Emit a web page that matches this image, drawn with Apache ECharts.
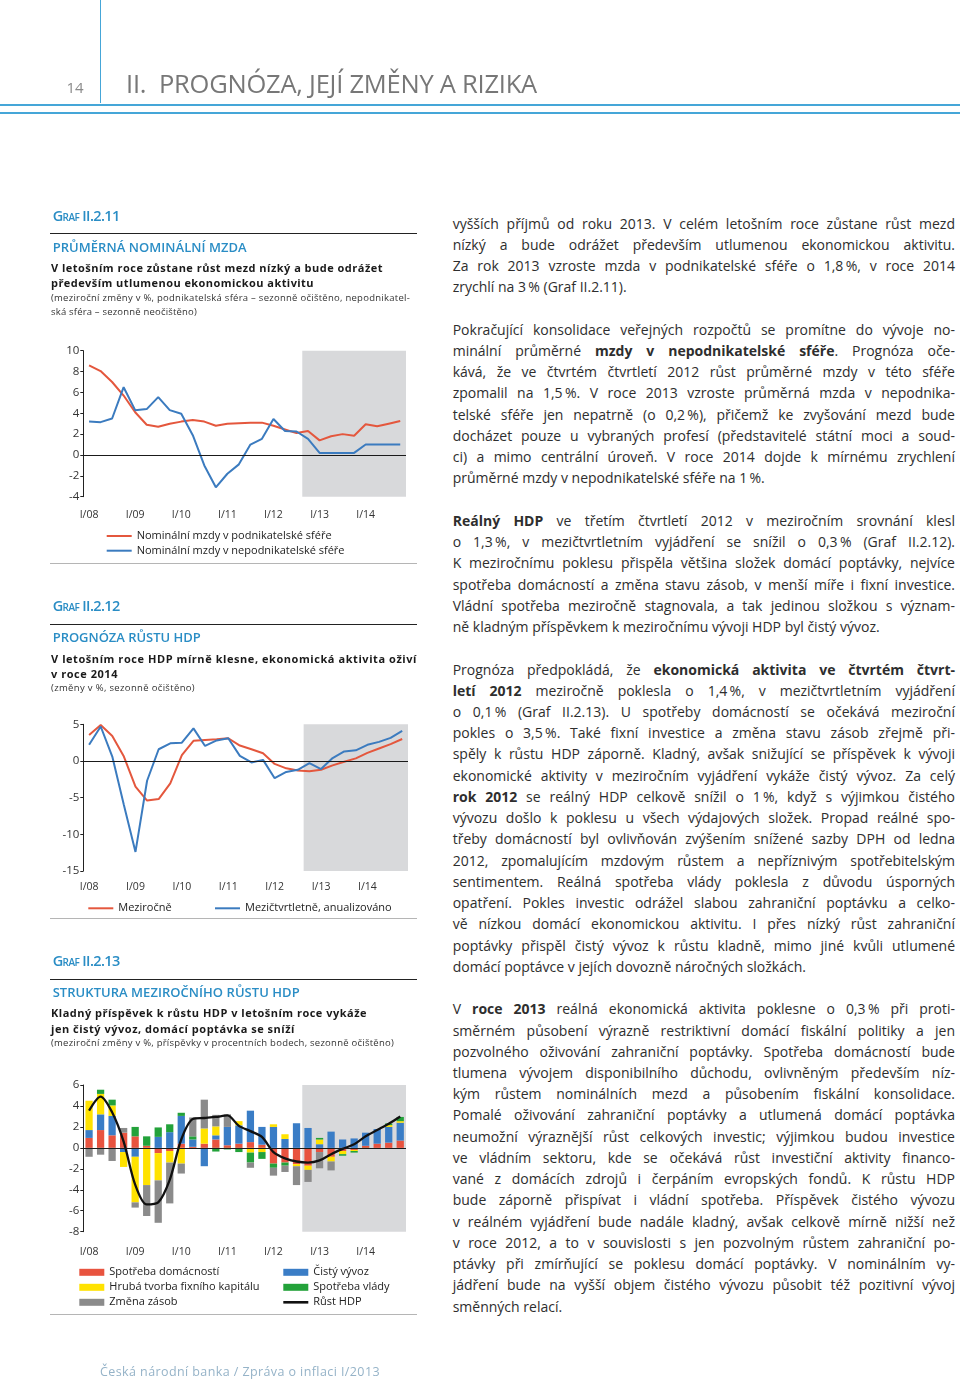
<!DOCTYPE html>
<html><head><meta charset="utf-8">
<script src="https://cdn.jsdelivr.net/npm/echarts@6/dist/echarts.min.js"></script>
<style>
html,body{margin:0;padding:0;background:#fff}
body{width:960px;height:1382px;position:relative;overflow:hidden;font-family:'Open Sans','Noto Sans',sans-serif}
.t{position:absolute;white-space:nowrap}
.ln{position:absolute}
.sc{font-variant:small-caps}
</style></head><body>
<div id="c" style="position:absolute;left:0;top:0;width:440px;height:1382px"></div>
<script>
// ---------- DATA ----------
const quarters = ['I/08','II/08','III/08','IV/08','I/09','II/09','III/09','IV/09','I/10','II/10','III/10','IV/10','I/11','II/11','III/11','IV/11','I/12','II/12','III/12','IV/12','I/13','II/13','III/13','IV/13','I/14','II/14','III/14','IV/14'];
const forecastStart = 'IV/12';

// Graf II.2.11
const wageBusiness = [8.6, 8.05, 7.0, 5.7, 4.1, 2.9, 2.7, 3.0, 3.2, 3.35, 3.2, 2.8, 3.0, 3.05, 3.1, 3.1, 2.8, 2.45, 2.1, 2.3, 1.4, 1.8, 2.0, 1.85, 2.95, 2.75, 3.0, 3.25];
const wagePublic   = [3.2, 3.15, 3.5, 6.5, 4.3, 4.4, 5.55, 4.3, 3.95, 1.9, -1.0, -3.1, -1.8, -0.9, 1.0, 1.55, 3.45, 2.3, 2.25, 1.55, 0.2, 0.2, 0.2, 0.2, 1.0, 1.0, 1.0, 1.0];

// Graf II.2.12
const gdpYoY = [3.55, 4.9, 3.4, 0.6, -3.5, -5.4, -5.2, -3.05, 0.8, 2.75, 2.85, 2.95, 3.1, 2.1, 1.6, 1.05, -0.4, -1.0, -1.3, -1.4, -1.2, -0.6, -0.1, 0.35, 1.1, 1.7, 2.3, 3.0];
const gdpQoQ = [2.2, 4.7, 0.6, -6.0, -12.4, -2.7, 1.6, 2.4, 2.5, 4.45, 2.05, 2.8, 3.1, 0.7, -0.2, 0.15, -2.35, -1.5, -1.2, -0.3, -1.1, 0.4, 1.3, 1.45, 2.2, 2.6, 3.15, 4.1];

// Graf II.2.13 (contributions, p.p.)
const cHouseholds = [0.95, 1.7, 1.2, 1.45, 1.1, 0.2, -0.5, -0.3, 0.4, 0.1, 0.4, 0.8, 0.25, 0.4, 0.55, 0.3, -1.5, -1.4, -1.55, -1.7, -0.4, -0.85, -0.3, -0.2, 0.2, 0.4, 0.5, 0.7];
const cNetExports = [0.75, 1.5, 1.85, -0.4, -0.85, 0, 1.05, 1.5, 2.65, 0.7, -1.75, 0.4, 1.75, 1.75, 3.0, 1.7, 2.0, 0.85, 2.35, 1.9, 0.35, 1.55, 0.8, 0.9, 1.25, 1.4, 1.5, 1.7];
const cInvestment = [2.8, 1.95, 1.0, -1.42, -4.35, -3.55, -2.6, -1.1, -1.5, 0, 1.45, 0.85, 0, 0.4, -0.45, -0.4, 0.25, 0.45, -0.2, -0.4, 0.45, -0.45, -0.3, -0.1, 0, 0, 0.17, 0.15];
const cGovernment = [0, 0.4, 0.55, 0, 0.9, 0.9, 0.9, 0.75, 0.3, 0.3, 0, -0.35, -0.15, -0.4, -0.95, -0.65, -0.4, -0.3, 0, 0, 0.15, 0, -0.15, -0.15, -0.1, 0, 0.16, 0.4];
const cInventories = [-0.85, -0.65, -1.25, 0.45, -0.5, -2.95, -4.05, -3.9, -0.95, 1.8, 2.75, 1.1, 1.2, 0, -0.5, 0, -0.75, -0.6, -1.8, -1.15, -1.55, -0.85, 0, 0, 0, 0, 0, 0];
const gdpGrowth = gdpYoY;

// tick settings
const ticks1 = {min: -4, max: 10, step: 2};
const ticks2 = {min: -15, max: 5, step: 5};
const ticks3 = {min: -8, max: 6, step: 2};

// ---------- STYLE ----------
const RED = '#e4573d', BLUE = '#3b7bbf';
const BAR_RED = '#e8533f', BAR_YEL = '#ffe200', BAR_GRAY = '#8b8b8b', BAR_BLUE = '#3a7dc6', BAR_GREEN = '#23a23a';
const SHADE = '#d8d9db';
const FONT = "'Open Sans','Noto Sans',sans-serif";
const LINE_ICON = 'path://M0,0L25,0L25,2L0,2Z';
const LINE_ICON_THICK = 'path://M0,0L25,0L25,2.6L0,2.6Z';

// ---------- PAGE TEXT ----------
function fit(d, W, justify, expand) {
  const txt = d.textContent;
  let w = d.getBoundingClientRect().width;
  if (w > W || expand) {
    let ls = (W - w) / txt.length;
    if (w <= W) ls = Math.min(ls, 0.8);
    d.style.letterSpacing = ls + 'px';
    w = d.getBoundingClientRect().width;
  }
  if (justify && w < W) {
    const n = (txt.match(/ /g) || []).length;
    if (n) d.style.wordSpacing = ((W - w) / n) + 'px';
  }
}
function put(html, x, cy, size, o) {
  o = o || {};
  const d = document.createElement('div');
  d.className = 't' + (o.cls ? ' ' + o.cls : '');
  d.innerHTML = html;
  const lh = Math.round(size * 1.4);
  const dy = (o.dy == null ? 0.1 : o.dy);
  d.style.left = x + 'px';
  d.style.top = (cy - lh / 2 - size * dy) + 'px';
  d.style.fontSize = size + 'px';
  d.style.lineHeight = lh + 'px';
  d.style.fontWeight = o.w || 400;
  d.style.color = o.c || '#2e2e2e';
  document.body.appendChild(d);
  if (o.W) fit(d, o.W, o.justify, o.expand);
  return d;
}
function rule(x, y, w, h, color) {
  const d = document.createElement('div');
  d.className = 'ln';
  d.style.cssText = `left:${x}px;top:${y}px;width:${w}px;height:${h}px;background:${color}`;
  document.body.appendChild(d);
}

// header
rule(99.5, 0, 1.4, 103, '#45a6d8');
rule(0, 104.3, 960, 1.5, '#45a6d8');
rule(0, 112.3, 960, 1.5, '#45a6d8');
put('14', 66.5, 87.5, 15, {c: '#8a8a8a', dy: 0.03});
put('II.&nbsp; PROGNÓZA, JEJÍ ZMĚNY A RIZIKA', 126, 84, 25.5, {c: '#777', dy: 0.03, W: 411, expand: true});

// left column chart headings
const blocks = [
  {L: 216, graf: 'Graf II.2.11', title: 'PRŮMĚRNÁ NOMINÁLNÍ MZDA', titleW: 194,
   sub: ['V letošním roce zůstane růst mezd nízký a bude odrážet', 'především utlumenou ekonomickou aktivitu'], subW: [332, 263],
   note: ['(meziroční změny v %, podnikatelská sféra – sezonně očištěno, nepodnikatel-', 'ská sféra – sezonně neočištěno)'], noteW: [359, 146], sep: 563},
  {L: 606.7, graf: 'Graf II.2.12', title: 'PROGNÓZA RŮSTU HDP', titleW: 148,
   sub: ['V letošním roce HDP mírně klesne, ekonomická aktivita oživí', 'v roce 2014'], subW: [366, 67],
   note: ['(změny v %, sezonně očištěno)'], noteW: [144], sep: 918.3},
  {L: 961.5, graf: 'Graf II.2.13', title: 'STRUKTURA MEZIROČNÍHO RŮSTU HDP', titleW: 247,
   sub: ['Kladný příspěvek k růstu HDP v letošním roce vykáže', 'jen čistý vývoz, domácí poptávka se sníží'], subW: [316, 244],
   note: ['(meziroční změny v %, příspěvky v procentních bodech, sezonně očištěno)'], noteW: [343], sep: 1314}
];
blocks.forEach(b => {
  put(b.graf, 52.7, b.L, 14.5, {w: 600, c: '#2a8dc5', cls: 'sc', dy: 0.03, W: 67, expand: true});
  rule(50, b.L + 17, 367, 1, '#222');
  put(b.title, 52.7, b.L + 31, 13, {w: 600, c: '#2a8dc5', dy: 0.03, W: b.titleW, expand: true});
  b.sub.forEach((s, i) => put(s, 51, b.L + 52.5 + i * 15.5, 11, {w: 700, c: '#1a1a1a', W: b.subW[i], expand: true}));
  b.note.forEach((s, i) => put(s, 51, b.L + 82 + i * 14.5, 9.5, {c: '#333', W: b.noteW[i], expand: true}));
  rule(50, b.sep, 367, 1, '#b5b5b5');
});

// footer
put('Česká národní banka / Zpráva o inflaci I/2013', 100, 1373, 12.5, {c: '#95b3c8', w: 400, W: 280, expand: true});

// right column body text
const paragraphs = [
 ['vyšších příjmů od roku 2013. V celém letošním roce zůstane růst mezd',
  'nízký a bude odrážet především utlumenou ekonomickou aktivitu.',
  'Za rok 2013 vzroste mzda v podnikatelské sféře o 1,8\u2009%, v roce 2014',
  'zrychlí na 3\u2009% (Graf II.2.11).'],
 ['Pokračující konsolidace veřejných rozpočtů se promítne do vývoje no-',
  'minální průměrné <b>mzdy v nepodnikatelské sféře</b>. Prognóza oče-',
  'kává, že ve čtvrtém čtvrtletí 2012 růst průměrné mzdy v této sféře',
  'zpomalil na 1,5\u2009%. V roce 2013 vzroste průměrná mzda v nepodnika-',
  'telské sféře jen nepatrně (o 0,2\u2009%), přičemž ke zvyšování mezd bude',
  'docházet pouze u vybraných profesí (představitelé státní moci a soud-',
  'ci) a mimo centrální úroveň. V roce 2014 dojde k mírnému zrychlení',
  'průměrné mzdy v nepodnikatelské sféře na 1\u2009%.'],
 ['<b>Reálný HDP</b> ve třetím čtvrtletí 2012 v meziročním srovnání klesl',
  'o 1,3\u2009%, v mezičtvrtletním vyjádření se snížil o 0,3\u2009% (Graf II.2.12).',
  'K meziročnímu poklesu přispěla většina složek domácí poptávky, nejvíce',
  'spotřeba domácností a změna stavu zásob, v menší míře i fixní investice.',
  'Vládní spotřeba meziročně stagnovala, a tak jedinou složkou s význam-',
  'ně kladným příspěvkem k meziročnímu vývoji HDP byl čistý vývoz.'],
 ['Prognóza předpokládá, že <b>ekonomická aktivita ve čtvrtém čtvrt-</b>',
  '<b>letí 2012</b> meziročně poklesla o 1,4\u2009%, v mezičtvrtletním vyjádření',
  'o 0,1\u2009% (Graf II.2.13). U spotřeby domácností se očekává meziroční',
  'pokles o 3,5\u2009%. Také fixní investice a změna stavu zásob zřejmě při-',
  'spěly k růstu HDP záporně. Kladný, avšak snižující se příspěvek k vývoji',
  'ekonomické aktivity v meziročním vyjádření vykáže čistý vývoz. Za celý',
  '<b>rok 2012</b> se reálný HDP celkově snížil o 1\u2009%, když s výjimkou čistého',
  'vývozu došlo k poklesu u všech výdajových složek. Propad reálné spo-',
  'třeby domácností byl ovlivňován zvýšením snížené sazby DPH od ledna',
  '2012, zpomalujícím mzdovým růstem a nepříznivým spotřebitelským',
  'sentimentem. Reálná spotřeba vlády poklesla z důvodu úsporných',
  'opatření. Pokles investic odrážel slabou zahraniční poptávku a celko-',
  'vě nízkou domácí ekonomickou aktivitu. I přes nízký růst zahraniční',
  'poptávky přispěl čistý vývoz k růstu kladně, mimo jiné kvůli utlumené',
  'domácí poptávce v jejích dovozně náročných složkách.'],
 ['V <b>roce 2013</b> reálná ekonomická aktivita poklesne o 0,3\u2009% při proti-',
  'směrném působení výrazně restriktivní domácí fiskální politiky a jen',
  'pozvolného oživování zahraniční poptávky. Spotřeba domácností bude',
  'tlumena vývojem disponibilního důchodu, ovlivněným především níz-',
  'kým růstem nominálních mezd a působením fiskální konsolidace.',
  'Pomalé oživování zahraniční poptávky a utlumená domácí poptávka',
  'neumožní výraznější růst celkových investic; výjimkou budou investice',
  've vládním sektoru, kde se očekává růst investiční aktivity financo-',
  'vané z domácích zdrojů i čerpáním evropských fondů. K růstu HDP',
  'bude záporně přispívat i vládní spotřeba. Příspěvek čistého vývozu',
  'v reálném vyjádření bude nadále kladný, avšak celkově mírně nižší než',
  'v roce 2012, a to v souvislosti s jen pozvolným růstem zahraniční po-',
  'ptávky při zmírňující se poklesu domácí poptávky. V nominálním vy-',
  'jádření bude na vyšší objem čistého vývozu působit též pozitivní vývoj',
  'směnných relací.']
];
(function () {
  let k = 0;
  paragraphs.forEach(p => {
    p.forEach((line, i) => {
      put(line, 452.7, 225 + k * 21.235, 14, {c: '#2e2e2e', W: 502.3, justify: i < p.length - 1});
      k++;
    });
    k++;
  });
})();

// ---------- CHARTS ----------
const shadeIdx = quarters.indexOf(forecastStart);
const chart = echarts.init(document.getElementById('c'), null, {renderer: 'canvas'});

function catAxis(g, margin) {
  return {type: 'category', gridIndex: g, data: quarters, boundaryGap: true, position: 'bottom',
    axisLine: {show: false, onZero: false}, axisTick: {show: false}, splitLine: {show: false},
    axisLabel: {interval: (i) => i % 4 === 0, margin: margin, fontSize: 10.5, color: '#333', fontFamily: FONT}};
}
function hiddenAxis(g) {
  return {type: 'value', gridIndex: g, min: 0, max: quarters.length, show: false};
}
function valAxis(g, t) {
  return {type: 'value', gridIndex: g, min: t.min, max: t.max, interval: t.step,
    axisLine: {show: true, lineStyle: {color: '#222', width: 1}},
    axisTick: {show: true, inside: false, length: 3, lineStyle: {color: '#222', width: 1}},
    axisLabel: {margin: 4, fontSize: 11.5, color: '#333', fontFamily: FONT},
    splitLine: {show: false}};
}
const zeroLine = {silent: true, symbol: ['none', 'none'], label: {show: false},
  lineStyle: {color: '#1a1a1a', width: 1, type: 'solid'}, emphasis: {disabled: true}, data: [{yAxis: 0}]};
function shadeSeries(xi, yi) {
  return {type: 'line', xAxisIndex: xi, yAxisIndex: yi, data: [], z: 1, silent: true, symbol: 'none',
    markArea: {silent: true, itemStyle: {color: SHADE}, data: [[{xAxis: shadeIdx}, {xAxis: quarters.length}]]}};
}
function lineS(name, data, color, xi, yi, extra) {
  return Object.assign({name, type: 'line', xAxisIndex: xi, yAxisIndex: yi, data, symbol: 'none',
    lineStyle: {color, width: 2}, itemStyle: {color}, z: 3, emphasis: {disabled: true}}, extra || {});
}
function barS(name, data, color) {
  return {name, type: 'bar', xAxisIndex: 4, yAxisIndex: 2, data, stack: 'contrib', barWidth: '63%',
    itemStyle: {color}, z: 2, emphasis: {disabled: true}};
}
const legText = {fontSize: 11, color: '#222', fontFamily: FONT};

chart.setOption({
  animation: false,
  textStyle: {fontFamily: FONT},
  grid: [
    {left: 83.3, top: 350.7, width: 322.7, height: 146, outerBoundsMode: 'none'},
    {left: 83.3, top: 724.3, width: 324.7, height: 146.7, outerBoundsMode: 'none'},
    {left: 83.3, top: 1085, width: 322.7, height: 146.7, outerBoundsMode: 'none'}
  ],
  xAxis: [catAxis(0, 13), hiddenAxis(0), catAxis(1, 11), hiddenAxis(1), catAxis(2, 15), hiddenAxis(2)],
  yAxis: [valAxis(0, ticks1), valAxis(1, ticks2), valAxis(2, ticks3)],
  legend: [
    {data: [{name: 'Nominální mzdy v podnikatelské sféře', icon: LINE_ICON}, {name: 'Nominální mzdy v nepodnikatelské sféře', icon: LINE_ICON}], orient: 'vertical',
     left: 106.7, top: 530.5, itemWidth: 25, itemHeight: 10, itemGap: 3.7, textStyle: legText, selectedMode: false, padding: 0},
    {data: [{name: 'Meziročně', icon: LINE_ICON}], left: 88.3, top: 902.8, itemWidth: 25, itemHeight: 10, textStyle: legText, selectedMode: false, padding: 0},
    {data: [{name: 'Mezičtvrtletně, anualizováno', icon: LINE_ICON}], left: 215, top: 902.8, itemWidth: 25, itemHeight: 10, textStyle: legText, selectedMode: false, padding: 0},
    {data: [{name: 'Spotřeba domácností', icon: 'rect'}, {name: 'Hrubá tvorba fixního kapitálu', icon: 'rect'}, {name: 'Změna zásob', icon: 'rect'}],
     orient: 'vertical', left: 79.3, top: 1266.8, itemWidth: 25, itemHeight: 7, itemGap: 4, textStyle: legText, selectedMode: false, padding: 0},
    {data: [{name: 'Čistý vývoz', icon: 'rect'}, {name: 'Spotřeba vlády', icon: 'rect'}, {name: 'Růst HDP', icon: LINE_ICON_THICK}],
     orient: 'vertical', left: 283.3, top: 1266.8, itemWidth: 25, itemHeight: 7, itemGap: 4, textStyle: legText, selectedMode: false, padding: 0}
  ],
  series: [
    shadeSeries(1, 0),
    lineS('Nominální mzdy v podnikatelské sféře', wageBusiness, RED, 0, 0),
    lineS('Nominální mzdy v nepodnikatelské sféře', wagePublic, BLUE, 0, 0, {markLine: zeroLine}),

    shadeSeries(3, 1),
    lineS('Meziročně', gdpYoY, RED, 2, 1, {markLine: zeroLine}),
    lineS('Mezičtvrtletně, anualizováno', gdpQoQ, BLUE, 2, 1),

    shadeSeries(5, 2),
    barS('Spotřeba domácností', cHouseholds, BAR_RED),
    barS('Čistý vývoz', cNetExports, BAR_BLUE),
    barS('Hrubá tvorba fixního kapitálu', cInvestment, BAR_YEL),
    barS('Spotřeba vlády', cGovernment, BAR_GREEN),
    barS('Změna zásob', cInventories, BAR_GRAY),
    lineS('Růst HDP', gdpGrowth, '#111', 4, 2, {smooth: 0.3, lineStyle: {color: '#111', width: 2.3}, z: 4, markLine: zeroLine})
  ]
});
</script>
</body></html>
